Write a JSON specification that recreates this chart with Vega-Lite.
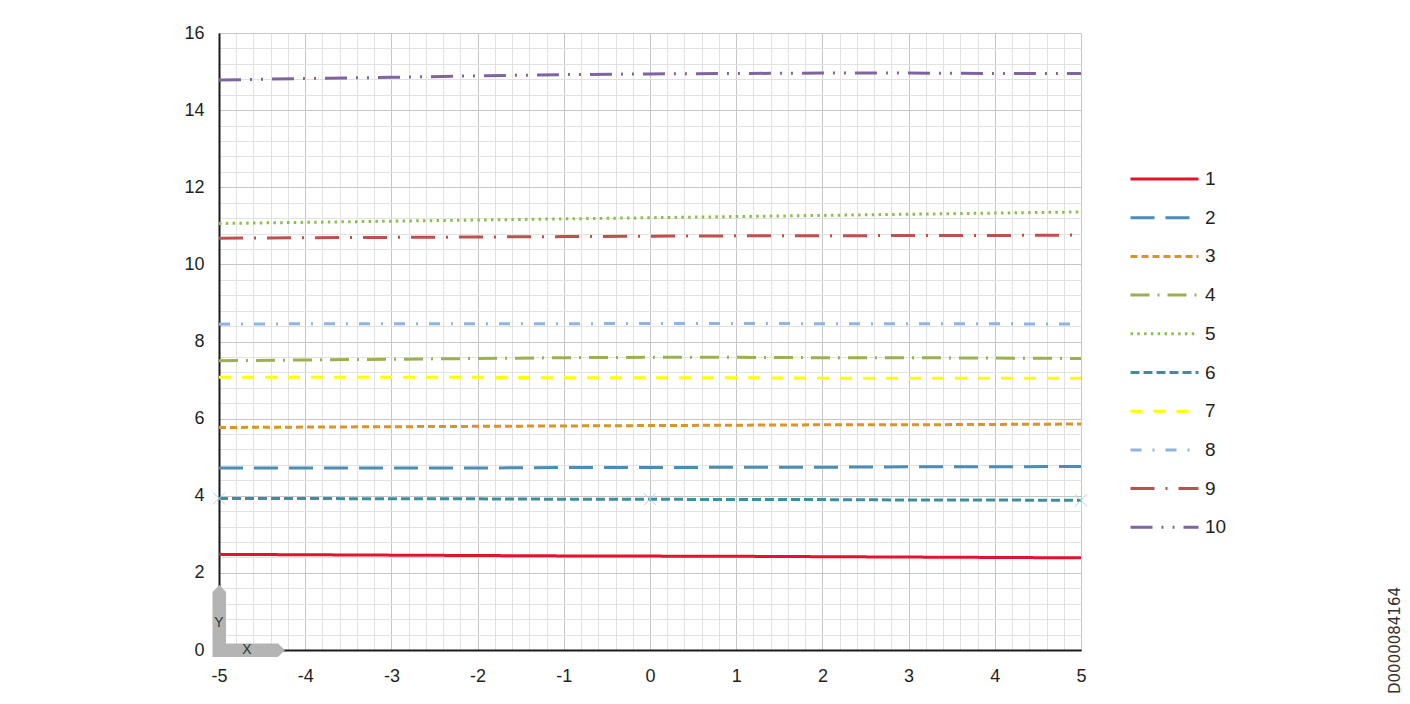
{
  "$schema": "https://vega.github.io/schema/vega-lite/v6.json",
  "width": 862,
  "height": 617,
  "autosize": {"type": "none"},
  "padding": {"left": 219, "top": 33, "right": 329, "bottom": 54},
  "background": "white",
  "title": {
    "text": "D0000084164",
    "orient": "right",
    "angle": -90,
    "anchor": "end",
    "align": "left",
    "frame": "group",
    "font": "DejaVu Sans",
    "fontSize": 15,
    "fontWeight": "normal",
    "color": "#333333",
    "offset": 146,
    "dx": -44
  },
  "datasets": {
    "lines": [
      {"s": "1", "x": -5, "y": 2.48}, {"s": "1", "x": -4, "y": 2.47}, {"s": "1", "x": -3, "y": 2.46}, {"s": "1", "x": -2, "y": 2.45}, {"s": "1", "x": -1, "y": 2.44}, {"s": "1", "x": 0, "y": 2.435}, {"s": "1", "x": 1, "y": 2.43}, {"s": "1", "x": 2, "y": 2.42}, {"s": "1", "x": 3, "y": 2.41}, {"s": "1", "x": 4, "y": 2.4}, {"s": "1", "x": 5, "y": 2.39},
      {"s": "2", "x": -5, "y": 4.72}, {"s": "2", "x": -4, "y": 4.72}, {"s": "2", "x": -3, "y": 4.72}, {"s": "2", "x": -2, "y": 4.72}, {"s": "2", "x": -1, "y": 4.73}, {"s": "2", "x": 0, "y": 4.73}, {"s": "2", "x": 1, "y": 4.74}, {"s": "2", "x": 2, "y": 4.74}, {"s": "2", "x": 3, "y": 4.75}, {"s": "2", "x": 4, "y": 4.75}, {"s": "2", "x": 5, "y": 4.76},
      {"s": "3", "x": -5, "y": 5.77}, {"s": "3", "x": -4, "y": 5.78}, {"s": "3", "x": -3, "y": 5.79}, {"s": "3", "x": -2, "y": 5.8}, {"s": "3", "x": -1, "y": 5.81}, {"s": "3", "x": 0, "y": 5.82}, {"s": "3", "x": 1, "y": 5.83}, {"s": "3", "x": 2, "y": 5.84}, {"s": "3", "x": 3, "y": 5.84}, {"s": "3", "x": 4, "y": 5.85}, {"s": "3", "x": 5, "y": 5.86},
      {"s": "4", "x": -5, "y": 7.5}, {"s": "4", "x": -4, "y": 7.52}, {"s": "4", "x": -3, "y": 7.54}, {"s": "4", "x": -2, "y": 7.56}, {"s": "4", "x": -1, "y": 7.58}, {"s": "4", "x": 0, "y": 7.59}, {"s": "4", "x": 1, "y": 7.59}, {"s": "4", "x": 2, "y": 7.58}, {"s": "4", "x": 3, "y": 7.58}, {"s": "4", "x": 4, "y": 7.57}, {"s": "4", "x": 5, "y": 7.56},
      {"s": "5", "x": -5, "y": 11.06}, {"s": "5", "x": -4, "y": 11.09}, {"s": "5", "x": -3, "y": 11.12}, {"s": "5", "x": -2, "y": 11.15}, {"s": "5", "x": -1, "y": 11.18}, {"s": "5", "x": 0, "y": 11.21}, {"s": "5", "x": 1, "y": 11.24}, {"s": "5", "x": 2, "y": 11.27}, {"s": "5", "x": 3, "y": 11.3}, {"s": "5", "x": 4, "y": 11.33}, {"s": "5", "x": 5, "y": 11.36},
      {"s": "6", "x": -5, "y": 3.93}, {"s": "6", "x": -4, "y": 3.93}, {"s": "6", "x": -3, "y": 3.92}, {"s": "6", "x": -2, "y": 3.92}, {"s": "6", "x": -1, "y": 3.91}, {"s": "6", "x": 0, "y": 3.91}, {"s": "6", "x": 1, "y": 3.9}, {"s": "6", "x": 2, "y": 3.9}, {"s": "6", "x": 3, "y": 3.89}, {"s": "6", "x": 4, "y": 3.89}, {"s": "6", "x": 5, "y": 3.88},
      {"s": "7", "x": -5, "y": 7.07}, {"s": "7", "x": -4, "y": 7.07}, {"s": "7", "x": -3, "y": 7.07}, {"s": "7", "x": -2, "y": 7.07}, {"s": "7", "x": -1, "y": 7.06}, {"s": "7", "x": 0, "y": 7.06}, {"s": "7", "x": 1, "y": 7.06}, {"s": "7", "x": 2, "y": 7.05}, {"s": "7", "x": 3, "y": 7.05}, {"s": "7", "x": 4, "y": 7.05}, {"s": "7", "x": 5, "y": 7.05},
      {"s": "8", "x": -5, "y": 8.45}, {"s": "8", "x": -4, "y": 8.46}, {"s": "8", "x": -3, "y": 8.46}, {"s": "8", "x": -2, "y": 8.46}, {"s": "8", "x": -1, "y": 8.46}, {"s": "8", "x": 0, "y": 8.47}, {"s": "8", "x": 1, "y": 8.47}, {"s": "8", "x": 2, "y": 8.46}, {"s": "8", "x": 3, "y": 8.46}, {"s": "8", "x": 4, "y": 8.46}, {"s": "8", "x": 5, "y": 8.45},
      {"s": "9", "x": -5, "y": 10.68}, {"s": "9", "x": -4, "y": 10.69}, {"s": "9", "x": -3, "y": 10.7}, {"s": "9", "x": -2, "y": 10.71}, {"s": "9", "x": -1, "y": 10.72}, {"s": "9", "x": 0, "y": 10.73}, {"s": "9", "x": 1, "y": 10.74}, {"s": "9", "x": 2, "y": 10.74}, {"s": "9", "x": 3, "y": 10.75}, {"s": "9", "x": 4, "y": 10.75}, {"s": "9", "x": 5, "y": 10.76},
      {"s": "10", "x": -5, "y": 14.78}, {"s": "10", "x": -4, "y": 14.82}, {"s": "10", "x": -3, "y": 14.85}, {"s": "10", "x": -2, "y": 14.89}, {"s": "10", "x": -1, "y": 14.92}, {"s": "10", "x": 0, "y": 14.94}, {"s": "10", "x": 1, "y": 14.95}, {"s": "10", "x": 2, "y": 14.96}, {"s": "10", "x": 3, "y": 14.96}, {"s": "10", "x": 4, "y": 14.95}, {"s": "10", "x": 5, "y": 14.95}
    ],
    "markers6": [
      {"x": -5, "y": 3.93}, {"x": 0, "y": 3.91}, {"x": 5, "y": 3.88}
    ],
    "corner": [{"x": -5, "y": 0}],
    "cornerText": [
      {"x": -5, "y": 0.7, "t": "Y"},
      {"x": -4.675, "y": 0, "t": "X"}
    ]
  },
  "encoding": {
    "x": {
      "field": "x",
      "type": "quantitative",
      "scale": {"domain": [-5, 5], "nice": false, "zero": false},
      "axis": {
        "title": null,
        "values": [-5,-4.8,-4.6,-4.4,-4.2,-4,-3.8,-3.6,-3.4,-3.2,-3,-2.8,-2.6,-2.4,-2.2,-2,-1.8,-1.6,-1.4,-1.2,-1,-0.8,-0.6,-0.4,-0.2,0,0.2,0.4,0.6,0.8,1,1.2,1.4,1.6,1.8,2,2.2,2.4,2.6,2.8,3,3.2,3.4,3.6,3.8,4,4.2,4.4,4.6,4.8,5],
        "labelExpr": "abs(datum.value - round(datum.value)) < 0.001 ? '' + round(datum.value) : ''",
        "ticks": false,
        "tickSize": 0,
        "labelPadding": 17,
        "labelOverlap": false,
        "labelBound": false,
        "labelFlush": false,
        "labelFont": "Liberation Sans",
        "labelFontSize": 18,
        "labelColor": "#1f1f1f",
        "domainColor": "#1a1a1a",
        "domainWidth": 2,
        "grid": true,
        "gridWidth": 1,
        "gridColor": {
          "condition": [
            {"test": "datum.value == -5", "value": "#1a1a1a"},
            {"test": "abs(datum.value - round(datum.value)) < 0.001", "value": "#c6c6c6"}
          ],
          "value": "#e2e2e2"
        }
      }
    },
    "y": {
      "field": "y",
      "type": "quantitative",
      "scale": {"domain": [0, 16], "nice": false},
      "axis": {
        "title": null,
        "values": [0,0.4,0.8,1.2,1.6,2,2.4,2.8,3.2,3.6,4,4.4,4.8,5.2,5.6,6,6.4,6.8,7.2,7.6,8,8.4,8.8,9.2,9.6,10,10.4,10.8,11.2,11.6,12,12.4,12.8,13.2,13.6,14,14.4,14.8,15.2,15.6,16],
        "labelExpr": "abs(datum.value / 2 - round(datum.value / 2)) < 0.001 ? '' + round(datum.value) : ''",
        "ticks": false,
        "tickSize": 0,
        "labelPadding": 15,
        "labelOverlap": false,
        "labelBound": false,
        "labelFlush": false,
        "labelFont": "Liberation Sans",
        "labelFontSize": 18,
        "labelColor": "#1f1f1f",
        "domainColor": "#1a1a1a",
        "domainWidth": 2,
        "grid": true,
        "gridWidth": 1,
        "gridColor": {
          "condition": [
            {"test": "datum.value == 0", "value": "#1a1a1a"},
            {"test": "abs(datum.value / 2 - round(datum.value / 2)) < 0.001", "value": "#c6c6c6"}
          ],
          "value": "#e2e2e2"
        }
      }
    }
  },
  "layer": [
    {
      "data": {"name": "lines"},
      "mark": {"type": "line", "strokeWidth": 3, "strokeCap": "butt", "clip": false},
      "encoding": {
        "color": {
          "field": "s",
          "type": "nominal",
          "scale": {
            "domain": ["1","2","3","4","5","6","7","8","9","10"],
            "range": ["#e3122d","#4a8db7","#d9942a","#9bb04f","#8cbf4a","#3b8fa3","#ffff00","#8db4e2","#c0504d","#8064a2"]
          },
          "legend": {
            "title": null,
            "orient": "none",
            "legendX": 910,
            "legendY": 136,
            "direction": "vertical",
            "symbolType": "stroke",
            "symbolSize": 4624,
            "symbolStrokeWidth": 3,
            "labelFont": "Liberation Sans",
            "labelFontSize": 19,
            "labelColor": "#1f1f1f",
            "labelOffset": 5,
            "clipHeight": 20,
            "rowPadding": 18.7
          }
        },
        "strokeDash": {
          "field": "s",
          "type": "nominal",
          "scale": {
            "domain": ["1","2","3","4","5","6","7","8","9","10"],
            "range": [[1,0],[24,11],[7,4],[19,8,2,8],[2.5,4.3],[9,4],[12,11],[11,11,2,11],[24,11,2,11],[22,9,2,9,2,9]]
          },
          "legend": {
            "title": null,
            "orient": "none",
            "legendX": 910,
            "legendY": 136,
            "direction": "vertical",
            "symbolType": "stroke",
            "symbolSize": 4624,
            "symbolStrokeWidth": 3,
            "labelFont": "Liberation Sans",
            "labelFontSize": 19,
            "labelColor": "#1f1f1f",
            "labelOffset": 5,
            "clipHeight": 20,
            "rowPadding": 18.7
          }
        },
        "order": {"field": "x", "type": "quantitative"}
      }
    },
    {
      "data": {"name": "markers6"},
      "mark": {"type": "point", "shape": "M-1,-1L1,1M-1,1L1,-1", "size": 144, "filled": false, "stroke": "#a9d3e8", "strokeWidth": 1, "opacity": 1}
    },
    {
      "data": {"name": "corner"},
      "mark": {"type": "point", "shape": "M-0.0903,0.0972L-0.0903,-0.8056L0.0069,-0.9028L0.0972,-0.8056L0.0972,-0.0903L0.8194,-0.0903L0.9167,0L0.8194,0.0972Z", "size": 20736, "filled": true, "fill": "#b4b4b4", "strokeWidth": 0, "opacity": 1}
    },
    {
      "data": {"name": "cornerText"},
      "mark": {"type": "text", "font": "Liberation Sans", "fontSize": 14, "color": "#333333", "align": "center", "baseline": "middle"},
      "encoding": {"text": {"field": "t", "type": "nominal"}}
    }
  ],
  "config": {
    "view": {"stroke": null}
  }
}
